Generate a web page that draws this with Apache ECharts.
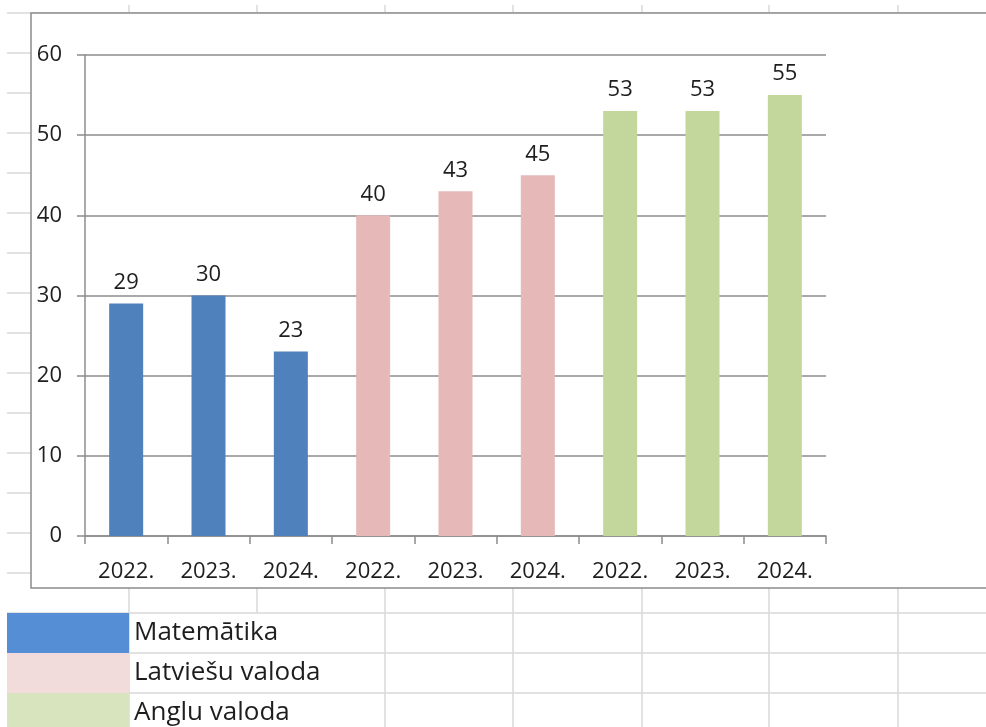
<!DOCTYPE html>
<html>
<head>
<meta charset="utf-8">
<title>Mācību priekšmeti</title>
<script src="https://cdn.jsdelivr.net/npm/echarts@6/dist/echarts.min.js"></script>
<style>
  html, body { margin: 0; padding: 0; background: #fff; }
  #chart { width: 986px; height: 727px; }
</style>
</head>
<body>
<div id="chart"></div>
<script>
// data
const years = ['2022.', '2023.', '2024.', '2022.', '2023.', '2024.', '2022.', '2023.', '2024.']
const subjects = ['Matemātika', 'Latviešu valoda', 'Anglu valoda']
const matematika = [29, 30, 23, '-', '-', '-', '-', '-', '-']
const latviesu = ['-', '-', '-', 40, 43, 45, '-', '-', '-']
const anglu = ['-', '-', '-', '-', '-', '-', 53, 53, 55]
const yTicks = { min: 0, max: 60, interval: 10 }

const barColors = ['#4f81bd', '#e6b9b8', '#c3d69b']
const cellColors = ['#558ed5', '#f2dcdb', '#d7e4bd']
const font = '"Open Sans", "Noto Sans", sans-serif'

// spreadsheet backdrop (cells behind the chart object)
const sheetLine = '#d9d9d9'
const colX = [129, 257, 385, 513, 642, 769, 898]
const backdrop = []
for (let y = 13; y < 727; y += 40) {
  backdrop.push({ type: 'line', z: -20, silent: true,
    shape: { x1: 7, y1: y, x2: 986, y2: y }, style: { stroke: sheetLine, lineWidth: 1.5 } })
}
colX.forEach(x => {
  backdrop.push({ type: 'line', z: -20, silent: true,
    shape: { x1: x, y1: 5, x2: x, y2: x === 257 ? 613 : 727 }, style: { stroke: sheetLine, lineWidth: 1.5 } })
})
// chart object frame
backdrop.push({ type: 'rect', z: -10, silent: true,
  shape: { x: 31, y: 13, width: 1000, height: 575 },
  style: { fill: '#fff', stroke: '#8c8c8c', lineWidth: 1.5 } })

const chart = echarts.init(document.getElementById('chart'))

const makeSeries = (name, data, color) => ({
  name,
  type: 'bar',
  data,
  barWidth: 34,
  barGap: '-100%',
  itemStyle: { color },
  label: {
    show: true,
    position: 'top',
    distance: 10,
    color: '#1e1e1e',
    fontFamily: font,
    fontSize: 22
  }
})

chart.setOption({
  animation: false,
  backgroundColor: '#fff',
  graphic: backdrop,
  grid: { left: 85, right: 160, top: 55, bottom: 191 },
  legend: {
    orient: 'vertical',
    left: 7,
    top: 613,
    height: 200,
    padding: 0,
    itemGap: 0,
    itemWidth: 122,
    itemHeight: 40,
    icon: 'rect',
    selectedMode: false,
    textStyle: { fontFamily: font, fontSize: 26, color: '#1e1e1e', padding: [4, 0, 0, 0] },
    data: subjects.map((name, i) => ({ name, itemStyle: { color: cellColors[i] } }))
  },
  xAxis: {
    type: 'category',
    data: years,
    axisLine: { lineStyle: { color: '#8c8c8c', width: 1.5 } },
    axisTick: { show: true, length: 8, lineStyle: { color: '#8c8c8c', width: 1.5 } },
    axisLabel: { margin: 25, color: '#1e1e1e', fontFamily: font, fontSize: 22, interval: 0 }
  },
  yAxis: {
    type: 'value',
    min: yTicks.min,
    max: yTicks.max,
    interval: yTicks.interval,
    axisLine: { show: true, lineStyle: { color: '#8c8c8c', width: 1.5 } },
    axisTick: { show: true, length: 8, lineStyle: { color: '#8c8c8c', width: 1.5 } },
    axisLabel: { margin: 23, color: '#1e1e1e', fontFamily: font, fontSize: 22 },
    splitLine: { lineStyle: { color: '#8c8c8c', width: 1.5 } }
  },
  series: [
    makeSeries(subjects[0], matematika, barColors[0]),
    makeSeries(subjects[1], latviesu, barColors[1]),
    makeSeries(subjects[2], anglu, barColors[2])
  ]
})
</script>
</body>
</html>
